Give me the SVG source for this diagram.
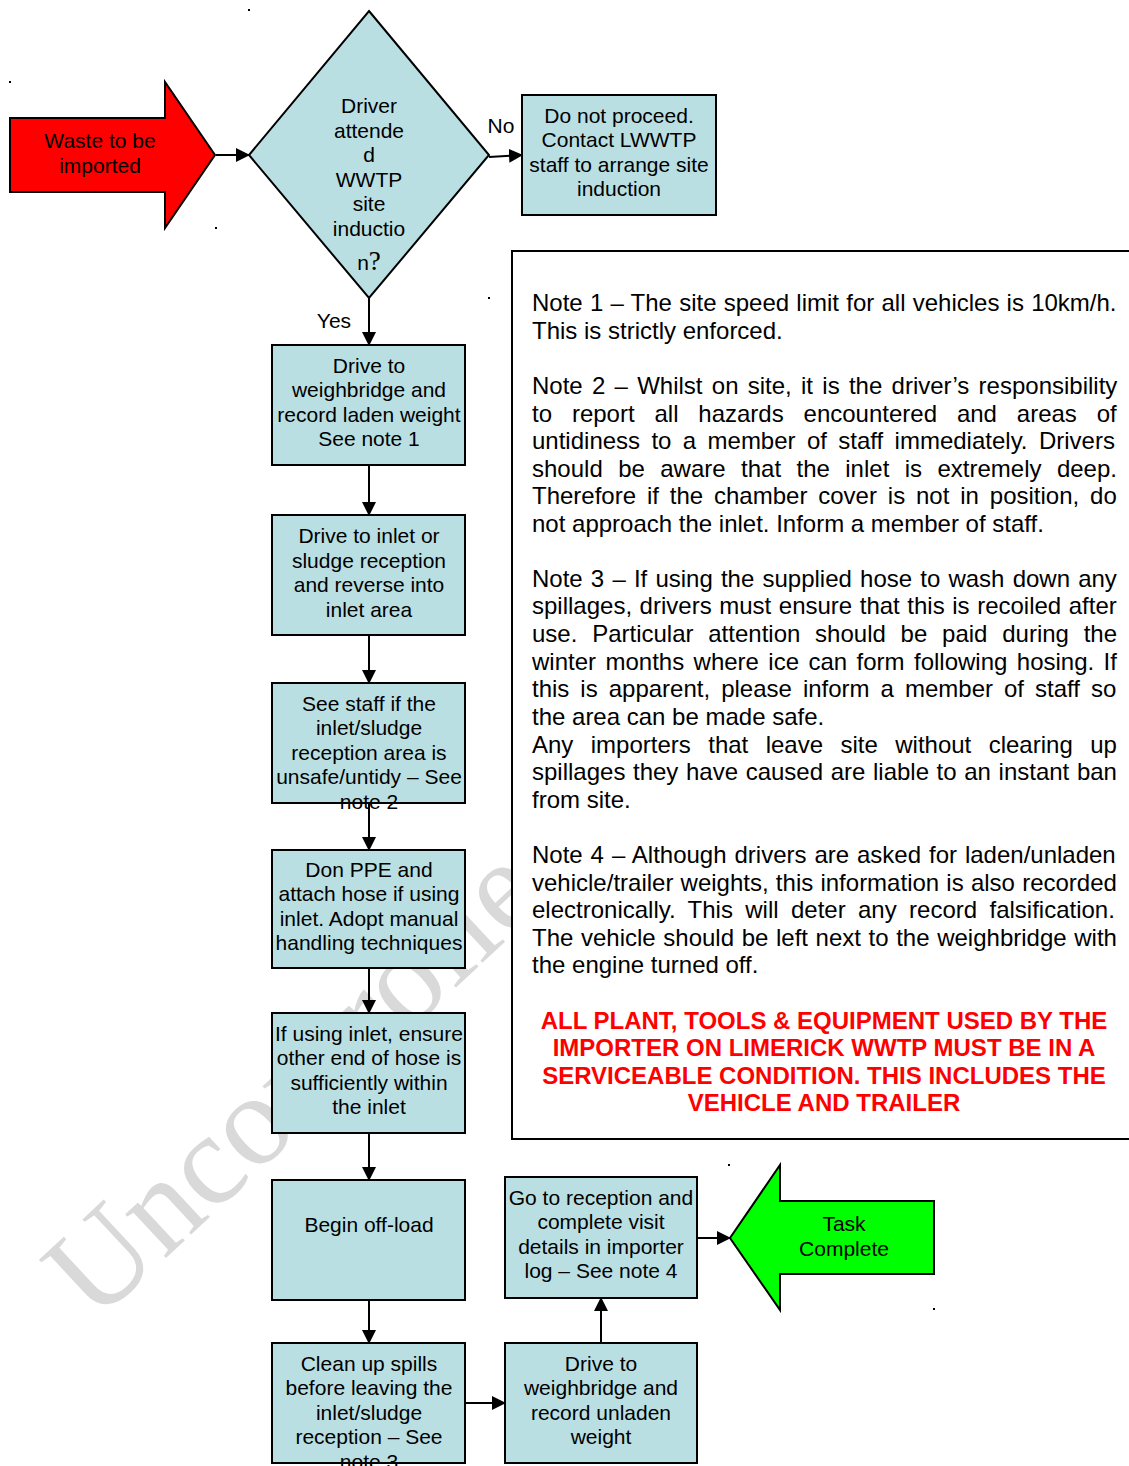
<svg xmlns="http://www.w3.org/2000/svg" width="1129" height="1466" viewBox="0 0 1129 1466">
<defs>
<marker id="ah" markerWidth="14" markerHeight="14" refX="13" refY="7" orient="auto" markerUnits="userSpaceOnUse">
<path d="M0,0 L14,7 L0,14 Z" fill="#000"/>
</marker>
<style>
.box{fill:#b9dfe3;stroke:#000;stroke-width:2}
.t{font-family:"Liberation Sans",Arial,sans-serif;font-size:21px;fill:#000;text-anchor:middle}
.n{font-family:"Liberation Sans",Arial,sans-serif;font-size:24px;fill:#000}
.r{font-family:"Liberation Sans",Arial,sans-serif;font-size:24px;font-weight:bold;fill:#ff0000;text-anchor:middle}
.c{stroke:#000;stroke-width:2;fill:none;marker-end:url(#ah)}
.dot{fill:#000}
</style>
</defs>
<rect width="1129" height="1466" fill="#fff"/>
<g id="watermark">
<text x="95" y="1324" transform="rotate(-43 95 1324)" font-family="Liberation Serif,'Times New Roman',serif" font-size="130" fill="#d9d9d9">Uncontrolled</text>
</g>
<g id="dots">
<rect class="dot" x="248" y="9" width="2" height="2"/>
<rect class="dot" x="9" y="81" width="2" height="2"/>
<rect class="dot" x="215" y="227" width="2" height="2"/>
<rect class="dot" x="488" y="297" width="2" height="2"/>
<rect class="dot" x="728" y="1164" width="2" height="2"/>
<rect class="dot" x="933" y="1308" width="2" height="2"/>
</g>
<g id="connectors">
<line class="c" x1="216" y1="155" x2="249" y2="155"/>
<line class="c" x1="489" y1="157" x2="522" y2="155"/>
<line class="c" x1="369" y1="298" x2="369" y2="345"/>
<line class="c" x1="369" y1="465" x2="369" y2="515"/>
<line class="c" x1="369" y1="635" x2="369" y2="683"/>
<line class="c" x1="369" y1="803" x2="369" y2="850"/>
<line class="c" x1="369" y1="968" x2="369" y2="1013"/>
<line class="c" x1="369" y1="1133" x2="369" y2="1180"/>
<line class="c" x1="369" y1="1300" x2="369" y2="1343"/>
<line class="c" x1="465" y1="1403" x2="505" y2="1403"/>
<line class="c" x1="601" y1="1343" x2="601" y2="1298"/>
<line class="c" x1="697" y1="1238" x2="730" y2="1238"/>
<text class="t" x="334" y="328">Yes</text>
<text class="t" x="501" y="133">No</text>
</g>
<g id="start">
<polygon points="10,118 165,118 165,82 215,155 165,228 165,192 10,192" fill="#ff0000" stroke="#000" stroke-width="2"/>
<text class="t" x="100" y="148">Waste to be</text>
<text class="t" x="100" y="173">imported</text>
</g>
<g id="decision">
<polygon class="box" points="369,11 489,155 369,298 249,155"/>
<text class="t" x="369" y="113">Driver</text>
<text class="t" x="369" y="138">attende</text>
<text class="t" x="369" y="162">d</text>
<text class="t" x="369" y="187">WWTP</text>
<text class="t" x="369" y="211">site</text>
<text class="t" x="369" y="236">inductio</text>
<text class="t" x="369" y="270">n<tspan font-family="Liberation Serif,'Times New Roman',serif" font-size="27px">?</tspan></text>
</g>
<g id="noinduction">
<rect class="box" x="522" y="95" width="194" height="120"/>
<text class="t" x="619" y="123">Do not proceed.</text>
<text class="t" x="619" y="147">Contact LWWTP</text>
<text class="t" x="619" y="172">staff to arrange site</text>
<text class="t" x="619" y="196">induction</text>
</g>
<g id="notes">
<rect x="512" y="251" width="640" height="888" fill="#fff" stroke="#000" stroke-width="2"/>
<text class="n" x="532" y="311" style="word-spacing:0.55px">Note 1 – The site speed limit for all vehicles is 10km/h.</text>
<text class="n" x="532" y="339">This is strictly enforced.</text>
<text class="n" x="532" y="394" style="word-spacing:2.6px">Note 2 – Whilst on site, it is the driver’s responsibility</text>
<text class="n" x="532" y="422" style="word-spacing:13.2px">to report all hazards encountered and areas of</text>
<text class="n" x="532" y="449" style="word-spacing:4.7px">untidiness to a member of staff immediately. Drivers</text>
<text class="n" x="532" y="477" style="word-spacing:8.75px">should be aware that the inlet is extremely deep.</text>
<text class="n" x="532" y="504" style="word-spacing:4.2px">Therefore if the chamber cover is not in position, do</text>
<text class="n" x="532" y="532">not approach the inlet. Inform a member of staff.</text>
<text class="n" x="532" y="587" style="word-spacing:1.5px">Note 3 – If using the supplied hose to wash down any</text>
<text class="n" x="532" y="614" style="word-spacing:0.9px">spillages, drivers must ensure that this is recoiled after</text>
<text class="n" x="532" y="642" style="word-spacing:8.1px">use. Particular attention should be paid during the</text>
<text class="n" x="532" y="670" style="word-spacing:2.75px">winter months where ice can form following hosing. If</text>
<text class="n" x="532" y="697" style="word-spacing:4.35px">this is apparent, please inform a member of staff so</text>
<text class="n" x="532" y="725">the area can be made safe.</text>
<text class="n" x="532" y="753" style="word-spacing:10.75px">Any importers that leave site without clearing up</text>
<text class="n" x="532" y="780" style="word-spacing:0.95px">spillages they have caused are liable to an instant ban</text>
<text class="n" x="532" y="808">from site.</text>
<text class="n" x="532" y="863" style="word-spacing:1.25px">Note 4 – Although drivers are asked for laden/unladen</text>
<text class="n" x="532" y="891" style="word-spacing:0.55px">vehicle/trailer weights, this information is also recorded</text>
<text class="n" x="532" y="918" style="word-spacing:5.7px">electronically. This will deter any record falsification.</text>
<text class="n" x="532" y="946" style="word-spacing:0.95px">The vehicle should be left next to the weighbridge with</text>
<text class="n" x="532" y="973">the engine turned off.</text>
<text class="r" x="824" y="1029">ALL PLANT, TOOLS &amp; EQUIPMENT USED BY THE</text>
<text class="r" x="824" y="1056">IMPORTER ON LIMERICK WWTP MUST BE IN A</text>
<text class="r" x="824" y="1084">SERVICEABLE CONDITION. THIS INCLUDES THE</text>
<text class="r" x="824" y="1111">VEHICLE AND TRAILER</text>
</g>
<g id="step1">
<rect class="box" x="272" y="345" width="193" height="120"/>
<text class="t" x="369" y="373">Drive to</text>
<text class="t" x="369" y="397">weighbridge and</text>
<text class="t" x="369" y="422">record laden weight</text>
<text class="t" x="369" y="446">See note 1</text>
</g>
<g id="step2">
<rect class="box" x="272" y="515" width="193" height="120"/>
<text class="t" x="369" y="543">Drive to inlet or</text>
<text class="t" x="369" y="568">sludge reception</text>
<text class="t" x="369" y="592">and reverse into</text>
<text class="t" x="369" y="617">inlet area</text>
</g>
<g id="step3">
<rect class="box" x="272" y="683" width="193" height="120"/>
<text class="t" x="369" y="711">See staff if the</text>
<text class="t" x="369" y="735">inlet/sludge</text>
<text class="t" x="369" y="760">reception area is</text>
<text class="t" x="369" y="784">unsafe/untidy – See</text>
<text class="t" x="369" y="809">note 2</text>
</g>
<g id="step4">
<rect class="box" x="272" y="850" width="193" height="118"/>
<text class="t" x="369" y="877">Don PPE and</text>
<text class="t" x="369" y="901">attach hose if using</text>
<text class="t" x="369" y="926">inlet. Adopt manual</text>
<text class="t" x="369" y="950">handling techniques</text>
</g>
<g id="step5">
<rect class="box" x="272" y="1013" width="193" height="120"/>
<text class="t" x="369" y="1041">If using inlet, ensure</text>
<text class="t" x="369" y="1065">other end of hose is</text>
<text class="t" x="369" y="1090">sufficiently within</text>
<text class="t" x="369" y="1114">the inlet</text>
</g>
<g id="step6">
<rect class="box" x="272" y="1180" width="193" height="120"/>
<text class="t" x="369" y="1232">Begin off-load</text>
</g>
<g id="step7">
<rect class="box" x="272" y="1343" width="193" height="120"/>
<text class="t" x="369" y="1371">Clean up spills</text>
<text class="t" x="369" y="1395">before leaving the</text>
<text class="t" x="369" y="1420">inlet/sludge</text>
<text class="t" x="369" y="1444">reception – See</text>
<text class="t" x="369" y="1469">note 3</text>
</g>
<g id="step8">
<rect class="box" x="505" y="1343" width="192" height="120"/>
<text class="t" x="601" y="1371">Drive to</text>
<text class="t" x="601" y="1395">weighbridge and</text>
<text class="t" x="601" y="1420">record unladen</text>
<text class="t" x="601" y="1444">weight</text>
</g>
<g id="step9">
<rect class="box" x="505" y="1177" width="192" height="121"/>
<text class="t" x="601" y="1205">Go to reception and</text>
<text class="t" x="601" y="1229">complete visit</text>
<text class="t" x="601" y="1254">details in importer</text>
<text class="t" x="601" y="1278">log – See note 4</text>
</g>
<g id="end">
<polygon points="934,1201 780,1201 780,1165 730,1238 780,1310 780,1274 934,1274" fill="#00ff00" stroke="#000" stroke-width="2"/>
<text class="t" x="844" y="1231">Task</text>
<text class="t" x="844" y="1256">Complete</text>
</g>
</svg>
